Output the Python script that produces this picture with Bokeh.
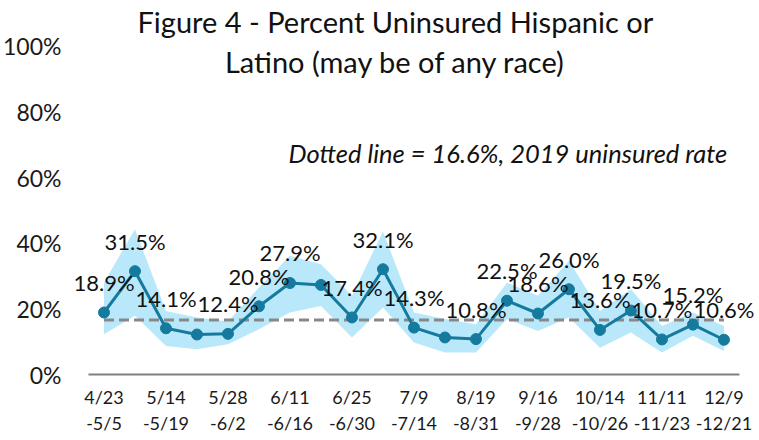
from bokeh.plotting import figure
from bokeh.models import ColumnDataSource, FixedTicker, Label
from bokeh.core.properties import value
from bokeh.embed import file_html
from bokeh.resources import INLINE

# ---- data ----
week_index = list(range(21))
pct_uninsured = [18.9, 31.5, 14.1, 12.2, 12.4, 20.8, 27.9, 27.3, 17.4, 32.1, 14.3,
                 11.3, 10.8, 22.5, 18.6, 26.0, 13.6, 19.5, 10.7, 15.2, 10.6]
ci_lower = [12.3, 17.9, 8.7, 7.7, 9.2, 13.8, 18.9, 20.9, 11.3, 20.4, 9.8,
            6.7, 6.7, 16.9, 13.3, 17.4, 8.2, 12.8, 6.7, 11.8, 7.2]
ci_upper = [28.0, 44.3, 19.4, 17.4, 16.2, 26.5, 36.2, 33.6, 24.0, 43.6, 18.9,
            16.9, 15.3, 28.0, 24.0, 34.7, 19.4, 26.0, 14.8, 18.9, 14.8]
point_labels = ["18.9%", "31.5%", "14.1%", "", "12.4%", "20.8%", "27.9%", "", "17.4%",
                "32.1%", "14.3%", "", "10.8%", "22.5%", "18.6%", "26.0%", "13.6%",
                "19.5%", "10.7%", "15.2%", "10.6%"]
tick_positions = list(range(0, 21, 2))
tick_labels = ["4/23\n-5/5", "5/14\n-5/19", "5/28\n-6/2", "6/11\n-6/16", "6/25\n-6/30",
               "7/9\n-7/14", "8/19\n-8/31", "9/16\n-9/28", "10/14\n-10/26",
               "11/11\n-11/23", "12/9\n-12/21"]
y_ticks = [0, 20, 40, 60, 80, 100]
baseline_2019 = 16.6

FONT = "Lato"
TEAL = "#157A9E"

src = ColumnDataSource(dict(x=week_index, y=pct_uninsured, lo=ci_lower, hi=ci_upper,
                            lab=point_labels))

p = figure(frame_width=686, frame_height=376, output_backend="svg", toolbar_location=None,
           x_range=(-1.08, 21.05), y_range=(-0.6, 114.0),
           min_border_left=57, min_border_right=0, min_border_top=0, min_border_bottom=0)
p.outline_line_color = None
p.grid.grid_line_color = None
p.background_fill_color = "white"

p.varea(x="x", y1="lo", y2="hi", source=src, fill_color="#B9E8FA", fill_alpha=1.0)
# zero baseline
p.line(x=[-0.5, 20.5], y=[0, 0], line_color="#808080", line_width=2)
# 2019 reference (dotted) line
p.line(x=[week_index[0], week_index[-1]], y=[baseline_2019, baseline_2019],
       line_color="#888888", line_width=3, line_dash="10 5")

p.line(x="x", y="y", source=src, line_color=TEAL, line_width=3)
p.scatter(x="x", y="y", source=src, size=11, fill_color=TEAL, line_color=TEAL)
p.text(x="x", y="y", text="lab", source=src, text_align="center", text_baseline="middle",
       y_offset=-30, text_font=value(FONT), text_font_size="22px", text_color="#111111")

# axes
p.xaxis.ticker = FixedTicker(ticks=tick_positions)
p.xaxis.major_label_overrides = {t: l for t, l in zip(tick_positions, tick_labels)}
p.xaxis.major_tick_line_color = None
p.xaxis.minor_tick_line_color = None
p.xaxis.axis_line_color = None
p.xaxis.major_label_text_font = FONT
p.xaxis.major_label_text_font_size = "18px"
p.xaxis.major_label_text_color = "#1a1a1a"
p.xaxis.major_label_standoff = 3

p.yaxis.ticker = FixedTicker(ticks=y_ticks)
p.yaxis.major_label_overrides = {t: f"{t}%" for t in y_ticks}
p.yaxis.axis_line_color = None
p.yaxis.major_tick_line_color = None
p.yaxis.minor_tick_line_color = None
p.yaxis.major_label_text_font = FONT
p.yaxis.major_label_text_font_size = "23px"
p.yaxis.major_label_text_color = "#1a1a1a"
p.yaxis.major_label_standoff = 3

# title and note
p.add_layout(Label(x=9.4, y=107.6, text="Figure 4 - Percent Uninsured Hispanic or",
                   text_align="center", text_baseline="middle", text_font=FONT,
                   text_font_size="29px", text_color="#111111"))
p.add_layout(Label(x=9.4, y=95.4, text="Latino (may be of any race)",
                   text_align="center", text_baseline="middle", text_font=FONT,
                   text_font_size="29px", text_color="#111111"))
p.add_layout(Label(x=13.03, y=67.4, text="Dotted line = 16.6%, 2019 uninsured rate",
                   text_align="center", text_baseline="middle", text_font=FONT,
                   text_font_style="italic", text_font_size="25.5px", text_color="#111111"))

open("out.html", "w").write(file_html(p, INLINE))
